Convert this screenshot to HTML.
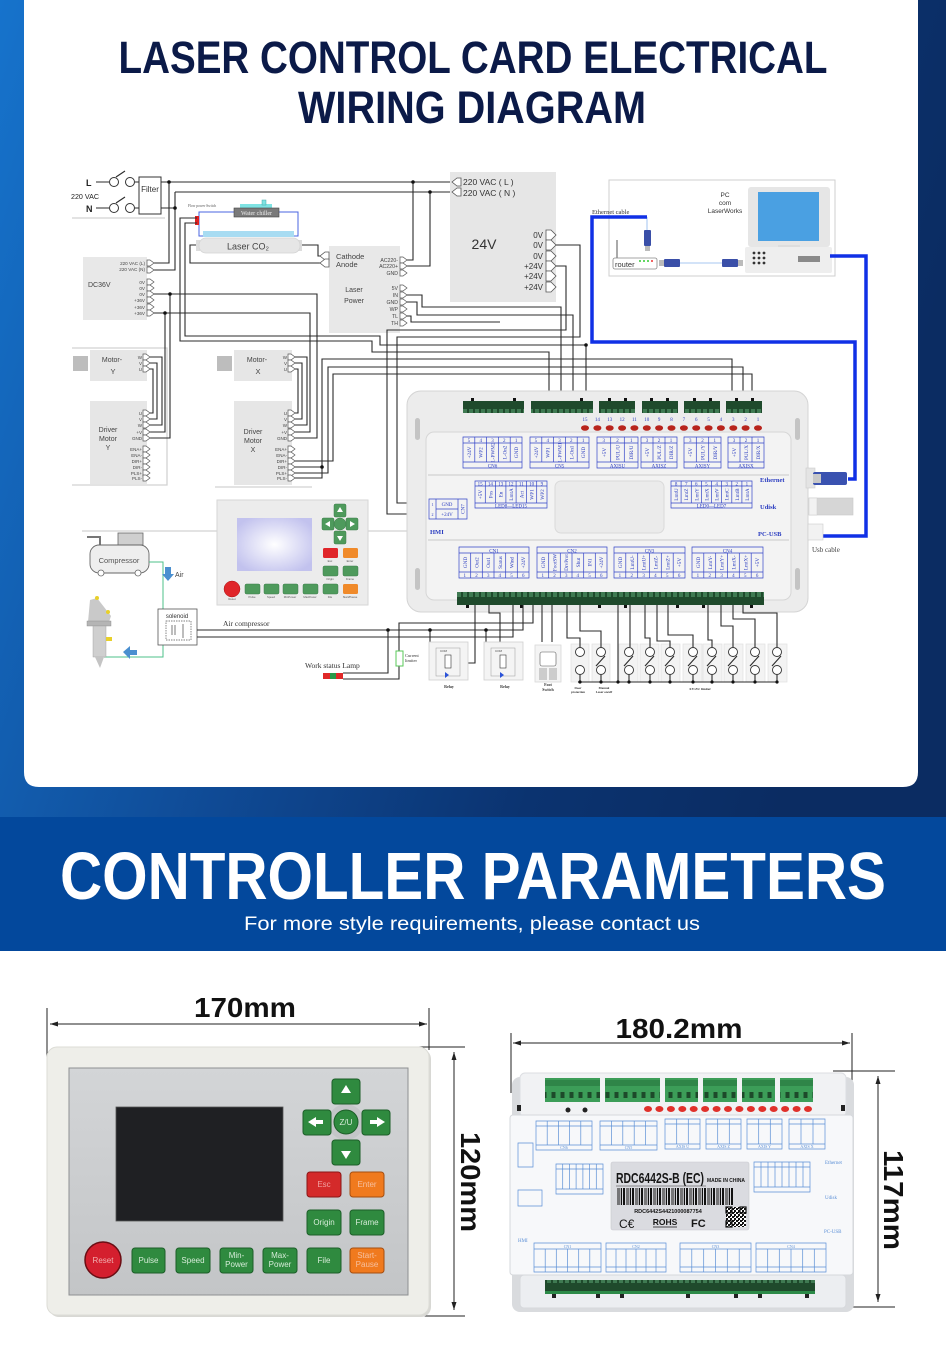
<!DOCTYPE html>
<html><head><meta charset="utf-8">
<style>
html,body{margin:0;padding:0;background:#fff;}
body{width:946px;height:1345px;overflow:hidden;}
svg{display:block;}
.w{fill:none;stroke:#2b2b2b;stroke-width:1.1;}
.g{fill:none;stroke:#d2d2d2;stroke-width:1.3;}
.bl{fill:none;stroke:#3344c8;stroke-width:0.7;}
.vt{font-family:"Liberation Serif",serif;font-size:5.2px;fill:#2a3cc0;text-anchor:middle;}
.nt{font-family:"Liberation Serif",serif;font-size:5px;fill:#2a3cc0;text-anchor:middle;}
.lb{font-family:"Liberation Serif",serif;font-size:6.5px;fill:#2a3cc0;font-weight:bold;}
.s{font-family:"Liberation Sans",sans-serif;fill:#333;}
.pw{fill:none;stroke:#5b8fd6;stroke-width:0.7;}
</style></head><body>
<svg width="946" height="1345" viewBox="0 0 946 1345" xmlns="http://www.w3.org/2000/svg" font-family="Liberation Sans, sans-serif">
<defs>
 <linearGradient id="bg" x1="0" y1="0" x2="946" y2="300" gradientUnits="userSpaceOnUse">
  <stop offset="0" stop-color="#1673cc"/>
  <stop offset="0.45" stop-color="#0f4a95"/>
  <stop offset="0.75" stop-color="#0b3370"/>
  <stop offset="1" stop-color="#0b2c62"/>
 </linearGradient>
 <radialGradient id="scr" cx="0.5" cy="0.5" r="0.6">
  <stop offset="0" stop-color="#ffffff"/><stop offset="1" stop-color="#c2c2ee"/>
 </radialGradient>
 <linearGradient id="pnl" x1="0" y1="0" x2="0" y2="1">
  <stop offset="0" stop-color="#d3d5d7"/><stop offset="1" stop-color="#c3c5c7"/>
 </linearGradient>
 <pattern id="bar" width="9" height="20" patternUnits="userSpaceOnUse">
  <rect x="0" y="0" width="1" height="20" fill="#111"/><rect x="2" y="0" width="2" height="20" fill="#111"/><rect x="5.5" y="0" width="1" height="20" fill="#111"/><rect x="7.5" y="0" width="0.7" height="20" fill="#111"/>
 </pattern>
 <pattern id="qr" width="4" height="4" patternUnits="userSpaceOnUse">
  <rect x="0" y="0" width="2" height="2" fill="#111"/><rect x="2" y="2" width="2" height="2" fill="#111"/><rect x="2" y="0" width="1" height="1" fill="#111"/>
 </pattern>
 <pattern id="term" width="6" height="14" patternUnits="userSpaceOnUse">
  <rect width="6" height="14" fill="#1f4a2c"/><rect x="1" y="3" width="4" height="6" fill="#3f7a52"/>
 </pattern>
 <pattern id="term2" width="9" height="24" patternUnits="userSpaceOnUse">
  <rect width="9" height="24" fill="#3c9d58"/><rect x="2.5" y="12" width="4" height="6" fill="#1d4a2a"/><rect x="0" y="0" width="9" height="6" fill="#2f8548"/>
 </pattern>
 <path id="pn" d="M0,-3H3L7,0L3,3H0Z" fill="#fff" stroke="#555" stroke-width="0.7"/>
 <path id="pb" d="M0,-5H5L10,0L5,5H0Z" fill="#fff" stroke="#555" stroke-width="0.8"/>
 <path id="pl" d="M0,-4H-4L-9,0L-4,4H0Z" fill="#fff" stroke="#555" stroke-width="0.8"/>
</defs>

<!-- background -->
<rect x="0" y="0" width="946" height="817" fill="url(#bg)"/>
<path d="M24,0H918V772Q918,787 903,787H39Q24,787 24,772Z" fill="#fff"/>
<rect x="0" y="817" width="946" height="134" fill="#03489c"/>
<rect x="0" y="951" width="946" height="394" fill="#fff"/>

<!-- titles -->
<text x="473" y="73" text-anchor="middle" font-size="45" font-weight="bold" fill="#0b1a48" textLength="709" lengthAdjust="spacingAndGlyphs">LASER CONTROL CARD ELECTRICAL</text>
<text x="472" y="123" text-anchor="middle" font-size="45" font-weight="bold" fill="#0b1a48" textLength="348" lengthAdjust="spacingAndGlyphs">WIRING DIAGRAM</text>

<text x="473" y="899" text-anchor="middle" font-size="67" font-weight="bold" fill="#fff" textLength="826" lengthAdjust="spacingAndGlyphs">CONTROLLER PARAMETERS</text>
<text x="472" y="930" text-anchor="middle" font-size="19" fill="#fff" textLength="456" lengthAdjust="spacingAndGlyphs">For more style requirements, please contact us</text>

<!-- ===================== DIAGRAM ===================== -->
<!-- gray separators -->
<path class="g" d="M72,218H165 M72,348H167V485H72 M215,487H312 M82,531H218 M368,531H407"/>

<!-- L/N input -->
<text x="86" y="186" font-size="9" font-weight="bold" fill="#222">L</text>
<text x="71" y="199" font-size="7" fill="#222" textLength="28" lengthAdjust="spacingAndGlyphs">220 VAC</text>
<text x="86" y="212" font-size="9" font-weight="bold" fill="#222">N</text>
<path class="w" d="M96,182H109 M135,182H139 M96,208H109 M135,208H139 M116,177L125,171 M116,203L125,197"/>
<circle cx="114" cy="182" r="4.5" fill="#fff" stroke="#333" stroke-width="1"/>
<circle cx="130" cy="182" r="4.5" fill="#fff" stroke="#333" stroke-width="1"/>
<circle cx="114" cy="208" r="4.5" fill="#fff" stroke="#333" stroke-width="1"/>
<circle cx="130" cy="208" r="4.5" fill="#fff" stroke="#333" stroke-width="1"/>
<rect x="139" y="177" width="22" height="37" fill="#fff" stroke="#333" stroke-width="1"/>
<text x="150" y="192" font-size="8" text-anchor="middle" fill="#333">Filter</text>

<!-- power wiring -->
<path class="w" d="M161,182H451 M161,208H175 M175,192H451 M175,192V270H154 M169,182V263H154 M413,182V260H407 M430,192V266H407"/>
<g fill="#111"><circle cx="169" cy="182" r="1.8"/><circle cx="175" cy="208" r="1.8"/><circle cx="413" cy="182" r="1.8"/><circle cx="430" cy="192" r="1.8"/></g>

<!-- water chiller & tube -->
<rect x="240" y="204" width="32" height="4" fill="#7fe3e3"/>
<rect x="262" y="200" width="4" height="5" fill="#7fe3e3" stroke="#4aa" stroke-width="0.5"/>
<path d="M234,212H199V236H298V212H279" fill="none" stroke="#4a64e0" stroke-width="1"/>
<rect x="234" y="208" width="45" height="9" fill="#7a7a7a" stroke="#444" stroke-width="0.6"/>
<text x="256.5" y="215" font-size="6" text-anchor="middle" fill="#eee" font-family="Liberation Serif, serif">Water chiller</text>
<text x="188" y="207" font-size="3.6" fill="#555" font-family="Liberation Serif, serif">Flow power Switch</text>
<rect x="195" y="216" width="4" height="9" fill="#e02020"/>
<rect x="203" y="231" width="91" height="6" fill="#a8dcf2"/>
<rect x="196" y="240" width="4" height="11" fill="#ddd"/>
<rect x="298" y="240" width="4" height="11" fill="#ddd"/>
<rect x="199" y="238" width="101" height="15" rx="7" fill="#e6e6e6" stroke="#d4d4d4" stroke-width="0.8"/>
<text x="248" y="249.5" font-size="9" text-anchor="middle" fill="#444">Laser CO₂</text>
<path class="w" d="M302,245H318V256H320 M196,245H190V263H320" stroke="#666"/>

<!-- water protect wires -->
<path class="w" d="M197,218H180V341H372V352H549V400 M197,223H185V336H380V345H586V400"/>

<!-- Laser power -->
<rect x="329" y="246" width="71" height="87" fill="#e8e8e8"/>
<use href="#pl" x="329" y="256"/><use href="#pl" x="329" y="263"/>
<text x="336" y="259" font-size="7.5" fill="#444">Cathode</text>
<text x="336" y="267" font-size="7.5" fill="#444">Anode</text>
<text x="354" y="292" font-size="7" text-anchor="middle" fill="#444">Laser</text>
<text x="354" y="303" font-size="7" text-anchor="middle" fill="#444">Power</text>
<g font-size="5.2" text-anchor="end" fill="#444">
<text x="398" y="262">AC220-</text><text x="398" y="268">AC220+</text><text x="398" y="275">GND</text>
<text x="398" y="290">5V</text><text x="398" y="297">IN</text><text x="398" y="304">GND</text>
<text x="398" y="311">WP</text><text x="398" y="318">TL</text><text x="398" y="325">TH</text>
</g>
<g><use href="#pn" x="400" y="260"/><use href="#pn" x="400" y="266"/><use href="#pn" x="400" y="273"/>
<use href="#pn" x="400" y="288"/><use href="#pn" x="400" y="295"/><use href="#pn" x="400" y="302"/>
<use href="#pn" x="400" y="309"/><use href="#pn" x="400" y="316"/><use href="#pn" x="400" y="323"/></g>

<!-- 24V PSU -->
<rect x="450" y="172" width="106" height="130" fill="#e6e6e6"/>
<use href="#pl" x="461" y="182"/><use href="#pl" x="461" y="192"/>
<text x="463" y="185" font-size="8.5" fill="#333">220 VAC ( L )</text>
<text x="463" y="196" font-size="8.5" fill="#333">220 VAC ( N )</text>
<text x="484" y="249" font-size="14" text-anchor="middle" fill="#333">24V</text>
<g font-size="8" text-anchor="end" fill="#333">
<text x="543" y="238">0V</text><text x="543" y="248">0V</text><text x="543" y="259">0V</text>
<text x="543" y="269">+24V</text><text x="543" y="279">+24V</text><text x="543" y="290">+24V</text>
</g>
<g><use href="#pb" x="546" y="235"/><use href="#pb" x="546" y="245"/><use href="#pb" x="546" y="256"/>
<use href="#pb" x="546" y="266"/><use href="#pb" x="546" y="276"/><use href="#pb" x="546" y="287"/></g>

<!-- laser power signals & 24V outputs -->
<path class="w" d="M407,295H422V307H561V400 M407,302H417V315H573V400 M407,316H411V322H500 M556,245H580V337H397V503H429 M556,266H566V330H387V514H429"/>
<circle cx="586" cy="345" r="1.8" fill="#111"/>

<!-- DC36V -->
<rect x="83" y="257" width="64" height="63" fill="#e8e8e8"/>
<g font-size="4.6" text-anchor="end" fill="#444">
<text x="145" y="265">220 VAC (L)</text><text x="145" y="271">220 VAC (N)</text>
<text x="145" y="284">0V</text><text x="145" y="290">0V</text><text x="145" y="296">0V</text>
<text x="145" y="302">+36V</text><text x="145" y="309">+36V</text><text x="145" y="315">+36V</text>
</g>
<text x="88" y="287" font-size="7" fill="#444">DC36V</text>
<g><use href="#pn" x="147" y="263"/><use href="#pn" x="147" y="270"/><use href="#pn" x="147" y="282"/><use href="#pn" x="147" y="288"/>
<use href="#pn" x="147" y="294"/><use href="#pn" x="147" y="300"/><use href="#pn" x="147" y="307"/><use href="#pn" x="147" y="313"/></g>
<path class="w" d="M154,294H317V438H295 M170,294V438H150 M154,313H310V432H295 M165,313V432H150"/>
<g fill="#111"><circle cx="170" cy="294" r="1.8"/><circle cx="165" cy="313" r="1.8"/></g>

<!-- Motor Y / Driver Y -->
<rect x="73" y="356" width="15" height="15" fill="#bdbdbd"/>
<rect x="90" y="350" width="57" height="31" fill="#e6e6e6"/>
<text x="112" y="362" font-size="7" text-anchor="middle" fill="#444">Motor-</text>
<text x="113" y="374" font-size="7.5" text-anchor="middle" fill="#444">Y</text>
<g font-size="4.5" text-anchor="end" fill="#444"><text x="142" y="359">W</text><text x="142" y="365">V</text><text x="142" y="371">U</text></g>
<use href="#pn" x="143" y="357"/><use href="#pn" x="143" y="363"/><use href="#pn" x="143" y="369"/>
<rect x="90" y="401" width="57" height="83" fill="#e6e6e6"/>
<text x="108" y="432" font-size="7" text-anchor="middle" fill="#444">Driver</text>
<text x="108" y="441" font-size="7" text-anchor="middle" fill="#444">Motor</text>
<text x="108" y="450" font-size="7" text-anchor="middle" fill="#444">Y</text>
<g font-size="4.5" text-anchor="end" fill="#444">
<text x="142" y="415">U</text><text x="142" y="421">V</text><text x="142" y="427">W</text><text x="142" y="434">+V</text><text x="142" y="440">GND</text>
<text x="142" y="451">ENA+</text><text x="142" y="457">ENA-</text><text x="142" y="463">DIR+</text><text x="142" y="469">DIR-</text><text x="142" y="475">PLS+</text><text x="142" y="480">PLS-</text>
</g>
<g><use href="#pn" x="143" y="413"/><use href="#pn" x="143" y="419"/><use href="#pn" x="143" y="425"/><use href="#pn" x="143" y="432"/><use href="#pn" x="143" y="438"/>
<use href="#pn" x="143" y="449"/><use href="#pn" x="143" y="455"/><use href="#pn" x="143" y="461"/><use href="#pn" x="143" y="467"/><use href="#pn" x="143" y="473"/><use href="#pn" x="143" y="478"/></g>
<path class="w" d="M150,357H162V425H150 M150,363H157V419H150 M150,369H153V413H150" stroke-width="0.9"/>

<!-- Motor X / Driver X -->
<rect x="217" y="356" width="15" height="15" fill="#bdbdbd"/>
<rect x="234" y="350" width="58" height="31" fill="#e6e6e6"/>
<text x="257" y="362" font-size="7" text-anchor="middle" fill="#444">Motor-</text>
<text x="258" y="374" font-size="7.5" text-anchor="middle" fill="#444">X</text>
<g font-size="4.5" text-anchor="end" fill="#444"><text x="287" y="359">W</text><text x="287" y="365">V</text><text x="287" y="371">U</text></g>
<use href="#pn" x="288" y="357"/><use href="#pn" x="288" y="363"/><use href="#pn" x="288" y="369"/>
<rect x="234" y="401" width="58" height="84" fill="#e6e6e6"/>
<text x="253" y="434" font-size="7" text-anchor="middle" fill="#444">Driver</text>
<text x="253" y="443" font-size="7" text-anchor="middle" fill="#444">Motor</text>
<text x="253" y="452" font-size="7" text-anchor="middle" fill="#444">X</text>
<g font-size="4.5" text-anchor="end" fill="#444">
<text x="287" y="415">U</text><text x="287" y="421">V</text><text x="287" y="427">W</text><text x="287" y="434">+V</text><text x="287" y="440">GND</text>
<text x="287" y="451">ENA+</text><text x="287" y="457">ENA-</text><text x="287" y="463">DIR+</text><text x="287" y="469">DIR-</text><text x="287" y="475">PLS+</text><text x="287" y="480">PLS-</text>
</g>
<g><use href="#pn" x="288" y="413"/><use href="#pn" x="288" y="419"/><use href="#pn" x="288" y="425"/><use href="#pn" x="288" y="432"/><use href="#pn" x="288" y="438"/>
<use href="#pn" x="288" y="449"/><use href="#pn" x="288" y="455"/><use href="#pn" x="288" y="461"/><use href="#pn" x="288" y="467"/><use href="#pn" x="288" y="473"/><use href="#pn" x="288" y="478"/></g>
<path class="w" d="M295,357H307V425H295 M295,363H302V419H295 M295,369H298V413H295" stroke-width="0.9"/>
<path class="w" d="M295,461H333V374H752V400 M295,473H328V367H743V400 M295,467H322V359H732V400 M295,478H322V467"/>
<circle cx="322" cy="467" r="1.8" fill="#111"/>

<!-- Ethernet / PC -->
<rect x="609" y="180" width="226" height="96" fill="#fff" stroke="#cfcfcf" stroke-width="1"/>
<rect x="748" y="187" width="82" height="60" rx="3" fill="#e6e6e6"/>
<rect x="758" y="192" width="61" height="49" fill="#4aa0e2"/>
<rect x="778" y="245" width="22" height="3" fill="#ddd"/>
<rect x="745" y="247" width="87" height="26" rx="2" fill="#eeeeee"/>
<g fill="#333"><circle cx="754" cy="253" r="1.4"/><circle cx="759" cy="253" r="1.4"/><circle cx="764" cy="253" r="1.4"/>
<circle cx="754" cy="258" r="1.4"/><circle cx="759" cy="258" r="1.4"/><circle cx="764" cy="258" r="1.4"/>
<circle cx="754" cy="263" r="1.4"/><circle cx="759" cy="263" r="1.4"/><circle cx="764" cy="263" r="1.4"/></g>
<rect x="798" y="256" width="22" height="6" fill="#8a8a8a"/>
<text x="725" y="197" font-size="6.5" text-anchor="middle" fill="#333">PC</text>
<text x="725" y="205" font-size="6.5" text-anchor="middle" fill="#333">com</text>
<text x="725" y="213" font-size="6.5" text-anchor="middle" fill="#333">LaserWorks</text>
<text x="592" y="214" font-size="6.5" fill="#333" font-family="Liberation Serif, serif">Ethernet cable</text>
<line x1="617" y1="240" x2="617" y2="259" stroke="#555" stroke-width="1"/>
<rect x="613" y="258" width="44" height="11" rx="2" fill="#fff" stroke="#888" stroke-width="0.8"/>
<text x="615" y="267" font-size="7.5" fill="#333">router</text>
<g fill="#3c3"><circle cx="640" cy="261" r="1"/><circle cx="644" cy="261" r="1"/><circle cx="648" cy="261" r="1"/></g><circle cx="652" cy="261" r="1" fill="#e33"/>
<line x1="647" y1="217" x2="647" y2="230" stroke="#8ab4ee" stroke-width="0.8"/>
<rect x="644" y="230" width="7" height="16" rx="1" fill="#3a4fa8"/><rect x="645" y="246" width="5" height="5" fill="#bbb"/>
<rect x="659" y="260" width="5" height="6" fill="#bbb"/><rect x="664" y="259" width="16" height="8" rx="1" fill="#3a4fa8"/>
<line x1="680" y1="263" x2="722" y2="263" stroke="#8ab4ee" stroke-width="0.8"/>
<rect x="722" y="259" width="16" height="8" rx="1" fill="#3a4fa8"/><rect x="738" y="260" width="5" height="6" fill="#bbb"/>
<path d="M647,217H592V342H855V479H848 M830,256H866V536H822" fill="none" stroke="#1030e6" stroke-width="3.5"/>

<!-- ===== Controller board (diagram) ===== -->
<rect x="407" y="391" width="401" height="221" rx="14" fill="#ececec" stroke="#d4d4d4" stroke-width="1"/>
<rect x="426" y="432" width="365" height="168" rx="8" fill="#f3f3f3" stroke="#d6d6d6" stroke-width="1"/>
<path class="g" d="M428,475H789 M428,540H789" stroke="#dcdcdc"/>
<g fill="#c4c4c4"><rect x="415" y="418" width="5" height="22" rx="2.5"/><rect x="415" y="568" width="5" height="22" rx="2.5"/><rect x="795" y="418" width="5" height="22" rx="2.5"/><rect x="795" y="568" width="5" height="22" rx="2.5"/></g>
<!-- top connectors -->
<g>
<rect x="463" y="401" width="61" height="12" fill="url(#term)"/>
<rect x="531" y="401" width="62" height="12" fill="url(#term)"/>
<rect x="599" y="401" width="36" height="12" fill="url(#term)"/>
<rect x="642" y="401" width="36" height="12" fill="url(#term)"/>
<rect x="684" y="401" width="36" height="12" fill="url(#term)"/>
<rect x="726" y="401" width="36" height="12" fill="url(#term)"/>
</g>
<g fill="#111"><rect x="471" y="398" width="3" height="3"/><rect x="513" y="398" width="3" height="3"/><rect x="580" y="398" width="3" height="3"/><rect x="608" y="398" width="3" height="3"/><rect x="624" y="398" width="3" height="3"/><rect x="650" y="398" width="3" height="3"/><rect x="666" y="398" width="3" height="3"/><rect x="693" y="398" width="3" height="3"/><rect x="709" y="398" width="3" height="3"/><rect x="735" y="398" width="3" height="3"/><rect x="751" y="398" width="3" height="3"/></g>
<!-- numbers & LEDs -->
<g class="nt" font-size="5.5">
<text x="585" y="421">15</text><text x="597.4" y="421">14</text><text x="609.7" y="421">13</text><text x="622.1" y="421">12</text><text x="634.4" y="421">11</text>
<text x="646.8" y="421">10</text><text x="659.1" y="421">9</text><text x="671.5" y="421">8</text><text x="683.9" y="421">7</text><text x="696.2" y="421">6</text>
<text x="708.6" y="421">5</text><text x="720.9" y="421">4</text><text x="733.3" y="421">3</text><text x="745.6" y="421">2</text><text x="758" y="421">1</text>
</g>
<g fill="#b8241c">
<ellipse cx="585" cy="428" rx="4" ry="2.8"/><ellipse cx="597.4" cy="428" rx="4" ry="2.8"/><ellipse cx="609.7" cy="428" rx="4" ry="2.8"/><ellipse cx="622.1" cy="428" rx="4" ry="2.8"/><ellipse cx="634.4" cy="428" rx="4" ry="2.8"/>
<ellipse cx="646.8" cy="428" rx="4" ry="2.8"/><ellipse cx="659.1" cy="428" rx="4" ry="2.8"/><ellipse cx="671.5" cy="428" rx="4" ry="2.8"/><ellipse cx="683.9" cy="428" rx="4" ry="2.8"/><ellipse cx="696.2" cy="428" rx="4" ry="2.8"/>
<ellipse cx="708.6" cy="428" rx="4" ry="2.8"/><ellipse cx="720.9" cy="428" rx="4" ry="2.8"/><ellipse cx="733.3" cy="428" rx="4" ry="2.8"/><ellipse cx="745.6" cy="428" rx="4" ry="2.8"/><ellipse cx="758" cy="428" rx="4" ry="2.8"/>
</g>

<!-- row1 blocks -->
<path class="bl" d="M463,437h59v31h-59z M463,443H522 M463,462H522 M474.8,437V462 M486.6,437V462 M498.4,437V462 M510.2,437V462
M530,437h59v31h-59z M530,443H589 M530,462H589 M541.8,437V462 M553.6,437V462 M565.4,437V462 M577.2,437V462
M597,437h41v31h-41z M597,443H638 M597,462H638 M610.7,437V462 M624.3,437V462
M641,437h36v31h-36z M641,443H677 M641,462H677 M653,437V462 M665,437V462
M684,437h37v31h-37z M684,443H721 M684,462H721 M696.3,437V462 M708.7,437V462
M728,437h36v31h-36z M728,443H764 M728,462H764 M740,437V462 M752,437V462"/>
<g class="nt">
<text x="468.9" y="442">5</text><text x="480.7" y="442">4</text><text x="492.5" y="442">3</text><text x="504.3" y="442">2</text><text x="516.1" y="442">1</text>
<text x="535.9" y="442">5</text><text x="547.7" y="442">4</text><text x="559.5" y="442">3</text><text x="571.3" y="442">2</text><text x="583.1" y="442">1</text>
<text x="603.8" y="442">3</text><text x="617.5" y="442">2</text><text x="631.2" y="442">1</text>
<text x="647" y="442">3</text><text x="659" y="442">2</text><text x="671" y="442">1</text>
<text x="690.2" y="442">3</text><text x="702.5" y="442">2</text><text x="714.8" y="442">1</text>
<text x="734" y="442">3</text><text x="746" y="442">2</text><text x="758" y="442">1</text>
</g>
<g class="nt" font-size="6.5">
<text x="492.5" y="467.5">CN6</text><text x="559.5" y="467.5">CN5</text><text x="617.5" y="467.5">AXISU</text><text x="659" y="467.5">AXISZ</text><text x="702.5" y="467.5">AXISY</text><text x="746" y="467.5">AXISX</text>
</g>
<g class="vt">
<text x="468.9" y="454.5" transform="rotate(-90 468.9 452.5)">+24V</text><text x="480.7" y="454.5" transform="rotate(-90 480.7 452.5)">WP2</text><text x="492.5" y="454.5" transform="rotate(-90 492.5 452.5)">L-PWM2</text><text x="504.3" y="454.5" transform="rotate(-90 504.3 452.5)">L-On2</text><text x="516.1" y="454.5" transform="rotate(-90 516.1 452.5)">GND</text>
<text x="535.9" y="454.5" transform="rotate(-90 535.9 452.5)">+24V</text><text x="547.7" y="454.5" transform="rotate(-90 547.7 452.5)">WP1</text><text x="559.5" y="454.5" transform="rotate(-90 559.5 452.5)">L-PWM1</text><text x="571.3" y="454.5" transform="rotate(-90 571.3 452.5)">L-On1</text><text x="583.1" y="454.5" transform="rotate(-90 583.1 452.5)">GND</text>
<text x="603.8" y="454.5" transform="rotate(-90 603.8 452.5)">+5V</text><text x="617.5" y="454.5" transform="rotate(-90 617.5 452.5)">PUL/U</text><text x="631.2" y="454.5" transform="rotate(-90 631.2 452.5)">DIR/U</text>
<text x="647" y="454.5" transform="rotate(-90 647 452.5)">+5V</text><text x="659" y="454.5" transform="rotate(-90 659 452.5)">PUL/Z</text><text x="671" y="454.5" transform="rotate(-90 671 452.5)">DIR/Z</text>
<text x="690.2" y="454.5" transform="rotate(-90 690.2 452.5)">+5V</text><text x="702.5" y="454.5" transform="rotate(-90 702.5 452.5)">PUL/Y</text><text x="714.8" y="454.5" transform="rotate(-90 714.8 452.5)">DIR/Y</text>
<text x="734" y="454.5" transform="rotate(-90 734 452.5)">+5V</text><text x="746" y="454.5" transform="rotate(-90 746 452.5)">PUL/X</text><text x="758" y="454.5" transform="rotate(-90 758 452.5)">DIR/X</text>
</g>

<!-- row2 -->
<rect x="555" y="481" width="109" height="52" rx="6" fill="#ebebeb" stroke="#dadada" stroke-width="1"/>
<path class="bl" d="M475,481h72v27h-72z M475,486H547 M475,503H547 M485.3,481V503 M495.6,481V503 M505.9,481V503 M516.1,481V503 M526.4,481V503 M536.7,481V503
M671,481h81v27h-81z M671,486H752 M671,503H752 M681.1,481V503 M691.3,481V503 M701.4,481V503 M711.5,481V503 M721.6,481V503 M731.8,481V503 M741.9,481V503
M429,499h38v20h-38z M436,499V519 M458,499V519 M436,509H458"/>
<g class="nt" font-size="4.5">
<text x="480.1" y="485.5">15</text><text x="490.4" y="485.5">14</text><text x="500.7" y="485.5">13</text><text x="511" y="485.5">12</text><text x="521.3" y="485.5">11</text><text x="531.6" y="485.5">10</text><text x="541.9" y="485.5">9</text>
<text x="676.1" y="485.5">8</text><text x="686.2" y="485.5">7</text><text x="696.3" y="485.5">6</text><text x="706.4" y="485.5">5</text><text x="716.6" y="485.5">4</text><text x="726.7" y="485.5">3</text><text x="736.8" y="485.5">2</text><text x="746.9" y="485.5">1</text>
<text x="511" y="507.5" font-size="5">LED8—LED15</text><text x="711.5" y="507.5" font-size="5">LED0—LED7</text>
</g>
<g class="vt" font-size="4.6">
<text x="480.1" y="496.5" transform="rotate(-90 480.1 494.5)">+5V</text><text x="490.4" y="496.5" transform="rotate(-90 490.4 494.5)">Pos</text><text x="500.7" y="496.5" transform="rotate(-90 500.7 494.5)">En</text><text x="511" y="496.5" transform="rotate(-90 511 494.5)">LmtA</text><text x="521.3" y="496.5" transform="rotate(-90 521.3 494.5)">Act</text><text x="531.6" y="496.5" transform="rotate(-90 531.6 494.5)">WP1</text><text x="541.9" y="496.5" transform="rotate(-90 541.9 494.5)">WP2</text>
<text x="676.1" y="496.5" transform="rotate(-90 676.1 494.5)">LmtU</text><text x="686.2" y="496.5" transform="rotate(-90 686.2 494.5)">LmtZ</text><text x="696.3" y="496.5" transform="rotate(-90 696.3 494.5)">LmtY</text><text x="706.4" y="496.5" transform="rotate(-90 706.4 494.5)">LmtX</text><text x="716.6" y="496.5" transform="rotate(-90 716.6 494.5)">LmtV</text><text x="726.7" y="496.5" transform="rotate(-90 726.7 494.5)">LmtC</text><text x="736.8" y="496.5" transform="rotate(-90 736.8 494.5)">LmtB</text><text x="746.9" y="496.5" transform="rotate(-90 746.9 494.5)">LmtA</text>
</g>
<g class="nt" font-size="6"><text x="447" y="506">GND</text><text x="447" y="516">+24V</text><text x="432.5" y="506" font-size="4">1</text><text x="432.5" y="516" font-size="4">2</text></g>
<text class="vt" x="462.5" y="511" transform="rotate(-90 462.5 509)" font-size="5">CN7</text>
<text class="lb" x="430" y="534">HMI</text>
<text class="lb" x="760" y="482">Ethernet</text>
<text class="lb" x="760" y="509">Udisk</text>
<text class="lb" x="758" y="536">PC-USB</text>

<!-- row3 -->
<path class="bl" d="M459,547h70v31h-70z M459,553H529 M459,572H529 M470.7,553V578 M482.3,553V578 M494,553V578 M505.7,553V578 M517.3,553V578
M537,547h70v31h-70z M537,553H607 M537,572H607 M548.7,553V578 M560.3,553V578 M572,553V578 M583.7,553V578 M595.3,553V578
M614,547h71v31h-71z M614,553H685 M614,572H685 M625.8,553V578 M637.7,553V578 M649.5,553V578 M661.3,553V578 M673.2,553V578
M692,547h71v31h-71z M692,553H763 M692,572H763 M703.8,553V578 M715.7,553V578 M727.5,553V578 M739.3,553V578 M751.2,553V578"/>
<g class="nt" font-size="6.5"><text x="494" y="552.5">CN1</text><text x="572" y="552.5">CN2</text><text x="649.5" y="552.5">CN3</text><text x="727.5" y="552.5">CN4</text></g>
<g class="nt">
<text x="464.8" y="577">1</text><text x="476.5" y="577">2</text><text x="488.2" y="577">3</text><text x="499.8" y="577">4</text><text x="511.5" y="577">5</text><text x="523.2" y="577">6</text>
<text x="542.8" y="577">1</text><text x="554.5" y="577">2</text><text x="566.2" y="577">3</text><text x="577.8" y="577">4</text><text x="589.5" y="577">5</text><text x="601.2" y="577">6</text>
<text x="619.9" y="577">1</text><text x="631.8" y="577">2</text><text x="643.6" y="577">3</text><text x="655.4" y="577">4</text><text x="667.3" y="577">5</text><text x="679.1" y="577">6</text>
<text x="697.9" y="577">1</text><text x="709.8" y="577">2</text><text x="721.6" y="577">3</text><text x="733.4" y="577">4</text><text x="745.3" y="577">5</text><text x="757.1" y="577">6</text>
</g>
<g class="vt">
<text x="464.8" y="564.5" transform="rotate(-90 464.8 562.5)">GND</text><text x="476.5" y="564.5" transform="rotate(-90 476.5 562.5)">Out2</text><text x="488.2" y="564.5" transform="rotate(-90 488.2 562.5)">Out1</text><text x="499.8" y="564.5" transform="rotate(-90 499.8 562.5)">Status</text><text x="511.5" y="564.5" transform="rotate(-90 511.5 562.5)">Wind</text><text x="523.2" y="564.5" transform="rotate(-90 523.2 562.5)">+24V</text>
<text x="542.8" y="564.5" transform="rotate(-90 542.8 562.5)">GND</text><text x="554.5" y="564.5" transform="rotate(-90 554.5 562.5)">FootSW</text><text x="566.2" y="564.5" transform="rotate(-90 566.2 562.5)">DrvProt</text><text x="577.8" y="564.5" transform="rotate(-90 577.8 562.5)">Shut</text><text x="589.5" y="564.5" transform="rotate(-90 589.5 562.5)">IN1</text><text x="601.2" y="564.5" transform="rotate(-90 601.2 562.5)">+24V</text>
<text x="619.9" y="564.5" transform="rotate(-90 619.9 562.5)">GND</text><text x="631.8" y="564.5" transform="rotate(-90 631.8 562.5)">LmtU-</text><text x="643.6" y="564.5" transform="rotate(-90 643.6 562.5)">LmtU+</text><text x="655.4" y="564.5" transform="rotate(-90 655.4 562.5)">LmtZ-</text><text x="667.3" y="564.5" transform="rotate(-90 667.3 562.5)">LmtZ+</text><text x="679.1" y="564.5" transform="rotate(-90 679.1 562.5)">+5V</text>
<text x="697.9" y="564.5" transform="rotate(-90 697.9 562.5)">GND</text><text x="709.8" y="564.5" transform="rotate(-90 709.8 562.5)">LmtY-</text><text x="721.6" y="564.5" transform="rotate(-90 721.6 562.5)">LmtY+</text><text x="733.4" y="564.5" transform="rotate(-90 733.4 562.5)">LmtX-</text><text x="745.3" y="564.5" transform="rotate(-90 745.3 562.5)">LmtX+</text><text x="757.1" y="564.5" transform="rotate(-90 757.1 562.5)">+5V</text>
</g>
<!-- bottom connector -->
<rect x="457" y="592" width="307" height="13" fill="url(#term)"/>
<g fill="#111"><rect x="466" y="605" width="3" height="3"/><rect x="520" y="605" width="3" height="3"/><rect x="598" y="605" width="3" height="3"/><rect x="624" y="605" width="3" height="3"/><rect x="676" y="605" width="3" height="3"/><rect x="676" y="605" width="3" height="3"/><rect x="702" y="605" width="3" height="3"/><rect x="750" y="605" width="3" height="3"/></g>

<!-- right ports -->
<rect x="806" y="468" width="9" height="20" fill="#e4e4e4" stroke="#ccc" stroke-width="0.6"/>
<rect x="813" y="472" width="34" height="13" rx="2" fill="#3a52b0"/>
<rect x="813" y="474" width="8" height="9" fill="#c8c8c8"/>
<rect x="809" y="498" width="44" height="17" fill="#d6d6d6" stroke="#c8c8c8" stroke-width="0.6"/>
<rect x="809" y="498" width="8" height="17" fill="#f2f2f2" stroke="#ccc" stroke-width="0.5"/>
<rect x="808" y="524" width="15" height="16" fill="#f2f2f2" stroke="#ccc" stroke-width="0.6"/>
<text x="812" y="552" font-size="7" fill="#444" font-family="Liberation Serif, serif">Usb cable</text>

<!-- HMI panel -->
<rect x="217" y="500" width="151" height="105" fill="#ececec" stroke="#d6d6d6" stroke-width="1"/>
<rect x="237" y="518" width="75" height="53" fill="url(#scr)"/>
<g fill="#4e9a5c" stroke="#3d7f4a" stroke-width="0.5">
<rect x="334" y="504" width="12" height="13" rx="1.5"/><rect x="322" y="518" width="12" height="12" rx="1.5"/><rect x="346" y="518" width="12" height="12" rx="1.5"/><rect x="334" y="531" width="12" height="13" rx="1.5"/>
<circle cx="340" cy="524" r="6"/>
<rect x="323" y="566" width="15" height="10" rx="1.5"/><rect x="343" y="566" width="15" height="10" rx="1.5"/>
<rect x="245" y="584" width="15" height="10" rx="1.5"/><rect x="264" y="584" width="15" height="10" rx="1.5"/><rect x="283" y="584" width="15" height="10" rx="1.5"/><rect x="303" y="584" width="15" height="10" rx="1.5"/><rect x="323" y="584" width="15" height="10" rx="1.5"/>
</g>
<rect x="323" y="548" width="15" height="10" rx="1.5" fill="#e0262a"/>
<rect x="343" y="548" width="15" height="10" rx="1.5" fill="#f08a2a"/>
<rect x="343" y="584" width="15" height="10" rx="1.5" fill="#f08a2a"/>
<circle cx="232" cy="589" r="8" fill="#e0262a" stroke="#a11" stroke-width="0.5"/>
<g fill="#fff"><path d="M340,507l3,5h-6z M340,541l3,-5h-6z M325,524l5,-3v6z M355,524l-5,-3v6z"/></g>
<g font-size="2.8" fill="#555" text-anchor="middle">
<text x="232" y="600">Reset</text><text x="252" y="598">Pulse</text><text x="271" y="598">Speed</text><text x="290" y="598">MinPower</text><text x="310" y="598">MaxPower</text><text x="330" y="598">File</text><text x="350" y="598">Start/Pause</text>
<text x="330" y="562">Esc</text><text x="350" y="562">Enter</text><text x="330" y="580">Origin</text><text x="350" y="580">Frame</text>
</g>

<!-- compressor & head -->
<path d="M87,537H100V545" fill="none" stroke="#777" stroke-width="2"/>
<rect x="118" y="533" width="25" height="12" fill="#cfcfcf" stroke="#666" stroke-width="0.8"/>
<rect x="90" y="545" width="59" height="28" rx="9" fill="#eeeeee" stroke="#666" stroke-width="0.9"/>
<circle cx="101" cy="573" r="3" fill="#fff" stroke="#666" stroke-width="0.8"/><circle cx="138" cy="573" r="3" fill="#fff" stroke="#666" stroke-width="0.8"/>
<text x="119" y="563" font-size="7.5" text-anchor="middle" fill="#555">Compressor</text>
<path d="M149,562H163V657H104" fill="none" stroke="#4cc08a" stroke-width="1"/>
<path d="M165,567h6v7h3l-6,7l-6,-7h3z" fill="#4a8fd0"/>
<text x="175" y="577" font-size="7" fill="#444">Air</text>
<path d="M123,652l7,-6v4h7v5h-7v4z" fill="#4a8fd0"/>
<rect x="158" y="609" width="39" height="36" fill="#fff" stroke="#555" stroke-width="0.8"/>
<text x="177" y="618" font-size="6" text-anchor="middle" fill="#333">solenoid</text>
<rect x="166" y="621" width="25" height="19" fill="none" stroke="#555" stroke-width="0.7" stroke-dasharray="1.5,1"/>
<path d="M172,625v10 M175,625v10 M183,624v14" stroke="#444" stroke-width="0.7"/>
<path d="M90,600L97,598L111,616L109,622H88Z" fill="#c9c9c9"/>
<rect x="87" y="621" width="24" height="5" fill="#b5b5b5" stroke="#888" stroke-width="0.4"/>
<rect x="93" y="626" width="13" height="31" fill="#cfcfcf" stroke="#999" stroke-width="0.4"/>
<path d="M95,657H104L100,668Z" fill="#c4c4c4"/>
<g fill="#e8d02a"><circle cx="97" cy="598" r="2"/><circle cx="108" cy="612" r="2"/><rect x="106" y="637" width="6" height="4"/></g>

<!-- lower wiring -->
<path class="w" d="M197,630H523V605 M197,637H513V605 M533,605V623H399V651 M399,666V679H343 M388,630V673H343 M430,630V642 M486,630V642 M475,605V663H458 M489,605V613H500V663H514 M542,605V642 M552,605V642"/>
<g fill="#111"><circle cx="388" cy="630" r="1.8"/><circle cx="430" cy="630" r="1.8"/><circle cx="486" cy="630" r="1.8"/></g>
<text x="223" y="626" font-size="7.5" fill="#333" font-family="Liberation Serif, serif">Air compressor</text>
<text x="305" y="668" font-size="7.5" fill="#333" font-family="Liberation Serif, serif">Work status Lamp</text>
<rect x="323" y="673" width="7" height="6" fill="#e02828"/><rect x="330" y="673" width="6" height="6" fill="#2a9a4a"/><rect x="336" y="673" width="7" height="6" fill="#e02828"/>
<rect x="396" y="651" width="7" height="15" fill="#fff" stroke="#5ac85a" stroke-width="1"/>
<text x="405" y="657" font-size="4.5" fill="#333" font-family="Liberation Serif, serif">Current</text>
<text x="405" y="662" font-size="4.5" fill="#333" font-family="Liberation Serif, serif">limiter</text>

<!-- relays -->
<g>
<rect x="429" y="642" width="39" height="38" fill="#f4f4f4" stroke="#cfcfcf" stroke-width="0.8"/>
<rect x="436" y="648" width="24" height="28" fill="none" stroke="#999" stroke-width="0.5"/>
<rect x="445" y="655" width="6" height="13" fill="#fff" stroke="#333" stroke-width="0.6"/>
<path d="M445,672l4,3l-4,3z" fill="#2a52d8"/>
<text x="440" y="652" font-size="3" fill="#444">COM</text>
<rect x="484" y="642" width="39" height="38" fill="#f4f4f4" stroke="#cfcfcf" stroke-width="0.8"/>
<rect x="491" y="648" width="24" height="28" fill="none" stroke="#999" stroke-width="0.5"/>
<rect x="500" y="655" width="6" height="13" fill="#fff" stroke="#333" stroke-width="0.6"/>
<path d="M500,672l4,3l-4,3z" fill="#2a52d8"/>
<text x="495" y="652" font-size="3" fill="#444">COM</text>
<rect x="535" y="645" width="26" height="37" fill="#f4f4f4" stroke="#d8d8d8" stroke-width="0.8"/>
<rect x="540" y="652" width="16" height="14" rx="2" fill="#fff" stroke="#555" stroke-width="0.6"/>
<rect x="539" y="668" width="8" height="12" fill="#ccc"/><rect x="549" y="668" width="8" height="12" fill="#ccc"/>
</g>
<g font-size="4" fill="#333" font-weight="bold" text-anchor="middle" font-family="Liberation Serif, serif">
<text x="449" y="688">Relay</text><text x="505" y="688">Relay</text><text x="548" y="686">Foot</text><text x="548" y="691">Switch</text>
<text x="578" y="689" font-size="3.2">Door</text><text x="578" y="693" font-size="3.2">protection</text>
<text x="604" y="689" font-size="3.2">Manual</text><text x="604" y="693" font-size="3.2">Laser on/off</text>
<text x="700" y="690" font-size="3.5">XY/ZU limiter</text>
</g>

<!-- switches -->
<g fill="#f3f3f3" stroke="#e0e0e0" stroke-width="0.7">
<rect x="571" y="644" width="18" height="38"/><rect x="592" y="644" width="18" height="38"/><rect x="619" y="644" width="19" height="38"/><rect x="640" y="644" width="19" height="38"/><rect x="661" y="644" width="19" height="38"/>
<rect x="683" y="644" width="19" height="38"/><rect x="703" y="644" width="19" height="38"/><rect x="724" y="644" width="19" height="38"/><rect x="746" y="644" width="19" height="38"/><rect x="768" y="644" width="19" height="38"/>
</g>
<path class="w" d="M567,605V638H580V647 M580,605V631H601V647 M618,605V682 M630,605V647 M645,605V638H650V647 M657,605V641H670V647 M668,605V635H693V647 M708,605V640H712V647 M721,605V626H733V647 M733,605V619H755V647 M743,605V613H777V647 M578,682H778
M580,675V682 M601,675V682 M629,675V682 M650,675V682 M670,675V682 M693,675V682 M712,675V682 M733,675V682 M755,675V682 M777,675V682"/>
<g fill="#fff" stroke="#333" stroke-width="0.9">
<circle cx="580" cy="652" r="4.5"/><circle cx="580" cy="670" r="4.5"/><circle cx="601" cy="652" r="4.5"/><circle cx="601" cy="670" r="4.5"/>
<circle cx="629" cy="652" r="4.5"/><circle cx="629" cy="670" r="4.5"/><circle cx="650" cy="652" r="4.5"/><circle cx="650" cy="670" r="4.5"/>
<circle cx="670" cy="652" r="4.5"/><circle cx="670" cy="670" r="4.5"/><circle cx="693" cy="652" r="4.5"/><circle cx="693" cy="670" r="4.5"/>
<circle cx="712" cy="652" r="4.5"/><circle cx="712" cy="670" r="4.5"/><circle cx="733" cy="652" r="4.5"/><circle cx="733" cy="670" r="4.5"/>
<circle cx="755" cy="652" r="4.5"/><circle cx="755" cy="670" r="4.5"/><circle cx="777" cy="652" r="4.5"/><circle cx="777" cy="670" r="4.5"/>
</g>
<path class="w" d="M596,666L605,656 M624,666L633,656 M645,666L654,656 M665,666L674,656 M688,666L697,656 M707,666L716,656 M728,666L737,656 M750,666L759,656 M772,666L781,656" stroke-width="0.9"/>
<g fill="#111"><circle cx="580" cy="682" r="1.6"/><circle cx="601" cy="682" r="1.6"/><circle cx="618" cy="682" r="1.6"/><circle cx="629" cy="682" r="1.6"/><circle cx="650" cy="682" r="1.6"/><circle cx="670" cy="682" r="1.6"/><circle cx="693" cy="682" r="1.6"/><circle cx="712" cy="682" r="1.6"/><circle cx="733" cy="682" r="1.6"/><circle cx="755" cy="682" r="1.6"/><circle cx="777" cy="682" r="1.6"/></g>

<!-- ===================== BOTTOM: HMI PANEL PHOTO ===================== -->
<text x="245" y="1017" text-anchor="middle" font-size="28" font-weight="bold" fill="#111" textLength="102" lengthAdjust="spacingAndGlyphs">170mm</text>
<path d="M47,1008V1060 M429,1008V1050 M50,1024H427 M413,1047H465 M413,1316H465 M454,1052V1310" stroke="#222" stroke-width="1" fill="none"/>
<path d="M50,1024l8,-2.5v5z M427,1024l-8,-2.5v5z M454,1052l-2.5,8h5z M454,1310l-2.5,-8h5z" fill="#222"/>
<text transform="translate(461,1182) rotate(90)" text-anchor="middle" font-size="28" font-weight="bold" fill="#111" textLength="100" lengthAdjust="spacingAndGlyphs">120mm</text>

<rect x="49" y="1049" width="382" height="268" rx="10" fill="#d8d8d4"/>
<rect x="47" y="1047" width="382" height="268" rx="10" fill="#eeeee9" stroke="#dcdcd6" stroke-width="1"/>
<rect x="69" y="1068" width="339" height="227" fill="url(#pnl)" stroke="#8e9092" stroke-width="1"/>
<rect x="116" y="1107" width="167" height="114" fill="#1f2023" stroke="#555" stroke-width="0.8"/>
<circle cx="346" cy="1122" r="18" fill="#c4c6c8"/>
<g fill="#2f8a3f" stroke="#1c5e28" stroke-width="1">
<rect x="332" y="1079" width="28" height="25" rx="3"/><rect x="303" y="1110" width="28" height="25" rx="3"/><rect x="362" y="1110" width="28" height="25" rx="3"/><rect x="332" y="1140" width="28" height="25" rx="3"/>
<circle cx="346" cy="1122" r="12"/>
<rect x="307" y="1210" width="34" height="25" rx="3"/><rect x="350" y="1210" width="34" height="25" rx="3"/>
<rect x="132" y="1248" width="33" height="25" rx="3"/><rect x="176" y="1248" width="34" height="25" rx="3"/><rect x="220" y="1248" width="33" height="25" rx="3"/><rect x="263" y="1248" width="34" height="25" rx="3"/><rect x="307" y="1248" width="34" height="25" rx="3"/>
</g>
<rect x="307" y="1172" width="34" height="25" rx="3" fill="#d42a2a" stroke="#8a1616" stroke-width="1"/>
<rect x="350" y="1172" width="34" height="25" rx="3" fill="#f07a1e" stroke="#a54e10" stroke-width="1"/>
<rect x="350" y="1248" width="34" height="25" rx="3" fill="#f07a1e" stroke="#a54e10" stroke-width="1"/>
<circle cx="103" cy="1260" r="18" fill="#d41f2e" stroke="#6a0e14" stroke-width="1.5"/>
<g fill="#fff"><path d="M346,1085l5,8h-10z M346,1159l5,-8h-10z M308,1122l8,-5v3h7v4h-7v3z M385,1122l-8,-5v3h-7v4h7v3z"/></g>
<g font-size="8" text-anchor="middle" fill="#d6ecd8">
<text x="346" y="1125">Z/U</text>
<text x="324" y="1225">Origin</text><text x="367" y="1225">Frame</text>
<text x="148.5" y="1263">Pulse</text><text x="193" y="1263">Speed</text>
<text x="236.5" y="1258">Min-</text><text x="236.5" y="1267">Power</text>
<text x="280" y="1258">Max-</text><text x="280" y="1267">Power</text>
<text x="324" y="1263">File</text>
</g>
<g font-size="8" text-anchor="middle" fill="#f6c0a0">
<text x="324" y="1187" fill="#f2a0a0">Esc</text><text x="367" y="1187">Enter</text>
<text x="367" y="1258">Start-</text><text x="367" y="1267">Pause</text>
<text x="103" y="1263" fill="#f2b0b0">Reset</text>
</g>

<!-- ===================== BOTTOM: BOARD PHOTO ===================== -->
<text x="679" y="1038" text-anchor="middle" font-size="28" font-weight="bold" fill="#111" textLength="127" lengthAdjust="spacingAndGlyphs">180.2mm</text>
<path d="M511,1033V1093 M852,1033V1093 M513,1043H850 M833,1071H895 M833,1307H895 M878,1076V1302" stroke="#222" stroke-width="1" fill="none"/>
<path d="M513,1043l8,-2.5v5z M850,1043l-8,-2.5v5z M878,1076l-2.5,8h5z M878,1302l-2.5,-8h5z" fill="#222"/>
<text transform="translate(884,1200) rotate(90)" text-anchor="middle" font-size="28" font-weight="bold" fill="#111" textLength="100" lengthAdjust="spacingAndGlyphs">117mm</text>

<rect x="512" y="1077" width="342" height="235" rx="8" fill="#d9dbde"/>
<rect x="520" y="1073" width="326" height="44" rx="5" fill="#f1f2f4" stroke="#dcdee2" stroke-width="1"/>
<rect x="510" y="1115" width="343" height="160" rx="3" fill="#f7f8fa" stroke="#d6d8dc" stroke-width="1"/>
<rect x="520" y="1275" width="326" height="33" rx="4" fill="#eceef1" stroke="#d6d8dc" stroke-width="1"/>
<g>
<rect x="545" y="1078" width="55" height="24" fill="url(#term2)"/><rect x="605" y="1078" width="55" height="24" fill="url(#term2)"/>
<rect x="665" y="1078" width="33" height="24" fill="url(#term2)"/><rect x="703" y="1078" width="34" height="24" fill="url(#term2)"/>
<rect x="742" y="1078" width="33" height="24" fill="url(#term2)"/><rect x="780" y="1078" width="33" height="24" fill="url(#term2)"/>
</g>
<g fill="#222"><circle cx="568" cy="1110" r="2.5"/><circle cx="585" cy="1110" r="2.5"/><rect x="517" y="1105" width="4" height="6"/><rect x="841" y="1105" width="4" height="6"/></g>
<g fill="#e0302a">
<ellipse cx="648" cy="1109" rx="4" ry="3"/><ellipse cx="659.4" cy="1109" rx="4" ry="3"/><ellipse cx="670.9" cy="1109" rx="4" ry="3"/><ellipse cx="682.3" cy="1109" rx="4" ry="3"/><ellipse cx="693.7" cy="1109" rx="4" ry="3"/>
<ellipse cx="705.1" cy="1109" rx="4" ry="3"/><ellipse cx="716.6" cy="1109" rx="4" ry="3"/><ellipse cx="728" cy="1109" rx="4" ry="3"/><ellipse cx="739.4" cy="1109" rx="4" ry="3"/><ellipse cx="750.9" cy="1109" rx="4" ry="3"/>
<ellipse cx="762.3" cy="1109" rx="4" ry="3"/><ellipse cx="773.7" cy="1109" rx="4" ry="3"/><ellipse cx="785.1" cy="1109" rx="4" ry="3"/><ellipse cx="796.6" cy="1109" rx="4" ry="3"/><ellipse cx="808" cy="1109" rx="4" ry="3"/>
</g>
<path class="pw" d="M536,1121h56v29h-56z M536,1126H592 M536,1145H592 M547.2,1121V1145 M558.4,1121V1145 M569.6,1121V1145 M580.8,1121V1145
M600,1121h57v29h-57z M600,1126H657 M600,1145H657 M611.4,1121V1145 M622.8,1121V1145 M634.2,1121V1145 M645.6,1121V1145
M665,1119h35v30h-35z M665,1124H700 M665,1144H700 M676.7,1119V1144 M688.3,1119V1144
M706,1119h35v30h-35z M706,1124H741 M706,1144H741 M717.7,1119V1144 M729.3,1119V1144
M747,1119h35v30h-35z M747,1124H782 M747,1144H782 M758.7,1119V1144 M770.3,1119V1144
M789,1119h36v30h-36z M789,1124H825 M789,1144H825 M801,1119V1144 M813,1119V1144
M518,1143h15v24h-15z M518,1190h24v16h-24z
M556,1164h47v30h-47z M556,1169H603 M556,1189H603 M562.7,1164V1189 M569.4,1164V1189 M576.1,1164V1189 M582.9,1164V1189 M589.6,1164V1189 M596.3,1164V1189
M754,1162h56v30h-56z M754,1167H810 M754,1187H810 M761,1162V1187 M768,1162V1187 M775,1162V1187 M782,1162V1187 M789,1162V1187 M796,1162V1187 M803,1162V1187
M534,1243h67v29h-67z M534,1249H601 M534,1267H601 M545.2,1249V1272 M556.3,1249V1272 M567.5,1249V1272 M578.7,1249V1272 M589.8,1249V1272
M606,1243h60v29h-60z M606,1249H666 M606,1267H666 M616,1249V1272 M626,1249V1272 M636,1249V1272 M646,1249V1272 M656,1249V1272
M680,1243h71v29h-71z M680,1249H751 M680,1267H751 M691.8,1249V1272 M703.7,1249V1272 M715.5,1249V1272 M727.3,1249V1272 M739.2,1249V1272
M756,1243h70v29h-70z M756,1249H826 M756,1267H826 M767.7,1249V1272 M779.3,1249V1272 M791,1249V1272 M802.7,1249V1272 M814.3,1249V1272"/>
<g font-size="4" fill="#5b8fd6" text-anchor="middle" font-family="Liberation Serif, serif">
<text x="564" y="1149">CN6</text><text x="628.5" y="1149">CN5</text><text x="682.5" y="1148">AXIS U</text><text x="723.5" y="1148">AXIS Z</text><text x="764.5" y="1148">AXIS Y</text><text x="807" y="1148">AXIS X</text>
<text x="567.5" y="1248">CN1</text><text x="636" y="1248">CN2</text><text x="715.5" y="1248">CN3</text><text x="791" y="1248">CN4</text>
</g>
<g font-size="5" fill="#5b8fd6" font-family="Liberation Serif, serif">
<text x="825" y="1164">Ethernet</text><text x="825" y="1199">Udisk</text><text x="824" y="1233">PC-USB</text><text x="518" y="1242">HMI</text>
</g>
<rect x="611" y="1162" width="138" height="68" rx="2" fill="#dadbe0" stroke="#c8c9ce" stroke-width="0.6"/>
<text x="616" y="1183" font-size="15" font-weight="bold" fill="#151515" textLength="88" lengthAdjust="spacingAndGlyphs">RDC6442S-B (EC)</text>
<text x="707" y="1182" font-size="5.5" font-weight="bold" fill="#151515" textLength="38" lengthAdjust="spacingAndGlyphs">MADE IN CHINA</text>
<line x1="616" y1="1186" x2="706" y2="1186" stroke="#333" stroke-width="0.6"/>
<rect x="616" y="1188" width="117" height="17" fill="url(#bar)"/>
<text x="668" y="1213" font-size="5.5" font-weight="bold" text-anchor="middle" fill="#151515">RDC6442S4421000087754</text>
<text x="619" y="1228" font-size="12" fill="#151515">C€</text>
<text x="665" y="1225" font-size="8.5" font-weight="bold" text-anchor="middle" fill="#151515">ROHS</text>
<line x1="653" y1="1227" x2="677" y2="1227" stroke="#151515" stroke-width="0.8"/>
<text x="691" y="1227" font-size="11" font-weight="bold" fill="#151515">FC</text>
<rect x="726" y="1207" width="20" height="20" fill="#fff"/>
<rect x="726" y="1207" width="20" height="20" fill="url(#qr)"/>
<rect x="726" y="1207" width="6" height="6" fill="none" stroke="#111" stroke-width="1.2"/>
<rect x="740" y="1207" width="6" height="6" fill="none" stroke="#111" stroke-width="1.2"/>
<rect x="726" y="1221" width="6" height="6" fill="none" stroke="#111" stroke-width="1.2"/>
<rect x="545" y="1280" width="270" height="13" fill="url(#term)"/>
<rect x="545" y="1291" width="270" height="3" fill="#2c8a48"/>
<g fill="#222"><rect x="552" y="1294" width="4" height="4"/><rect x="596" y="1294" width="4" height="4"/><rect x="620" y="1294" width="4" height="4"/><rect x="686" y="1294" width="4" height="4"/><rect x="734" y="1294" width="4" height="4"/><rect x="758" y="1294" width="4" height="4"/><rect x="805" y="1294" width="4" height="4"/></g>
</svg>
</body></html>
